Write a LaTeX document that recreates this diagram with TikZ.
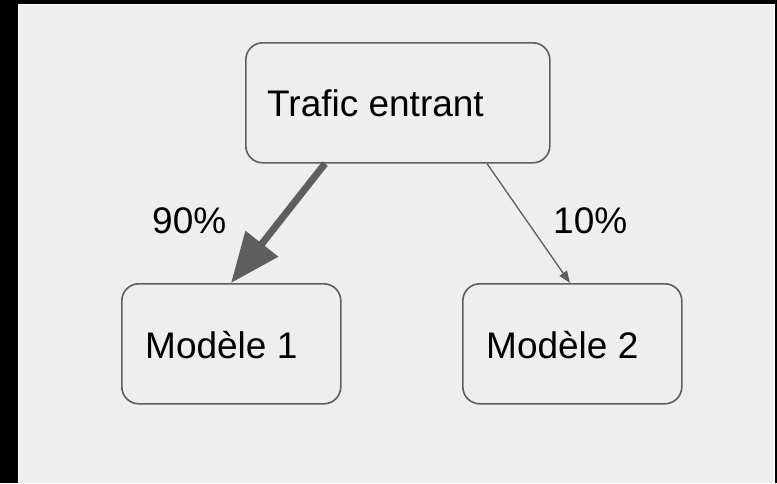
\documentclass[tikz,border=0pt]{standalone}
\usepackage{fontspec}
\setmainfont{Liberation Sans}
\usetikzlibrary{arrows.meta,calc}
\definecolor{panel}{HTML}{EEEEEE}
\definecolor{ink}{HTML}{5E5E5E}
\tikzset{
  box/.style={draw=ink, line width=1.6pt, rounded corners=17pt, fill=panel,
    inner sep=0pt, anchor=north west},
  lbl/.style={anchor=base west, inner sep=0pt, font=\fontsize{37}{44}\selectfont},
  heavy/.style={draw=ink, line width=7pt, -{Triangle[length=50pt,width=40pt]}},
  light/.style={draw=ink, line width=1.3pt, -{Triangle[length=12pt,width=9pt]}},
}
\begin{document}
\begin{tikzpicture}[x=1pt, y=-1pt]
  % frame and panel
  \fill[black] (0,0) rectangle (777,483);
  \fill[white] (18,4) rectangle (775,483);
  \fill[panel] (19.3,5.2) rectangle (773.5,483);
  \useasboundingbox (0,0) rectangle (777,483);

  % boxes
  \node[box, minimum width=304pt, minimum height=120pt] (src) at (245,42) {};
  \node[box, minimum width=219pt, minimum height=120pt] (m1) at (121,283) {};
  \node[box, minimum width=219pt, minimum height=120pt] (m2) at (462,283) {};

  % box texts
  \node[lbl] (tsrc) at (267,116) {Trafic entrant};
  \node[lbl] (tm1) at (145,358) {Modèle 1};
  \node[lbl] (tm2) at (486,358) {Modèle 2};

  % traffic split
  \draw[heavy] ($(src.south west)+(80pt,0)$) -- ($(m1.north west)+(110pt,0)$);
  \draw[light] ($(src.south west)+(242pt,0)$) -- ($(m2.north west)+(108pt,0)$);

  \node[lbl] (p90) at (152,233) {90\%};
  \node[lbl] (p10) at (553,233) {10\%};
\end{tikzpicture}
\end{document}
